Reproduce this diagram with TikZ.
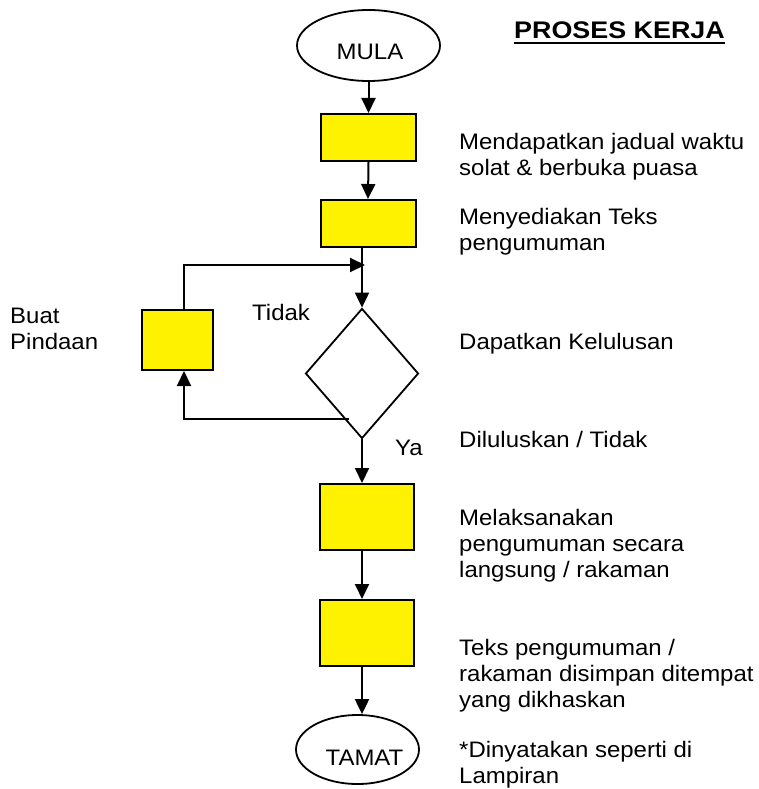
\documentclass[tikz,border=0pt]{standalone}
\usepackage{fontspec}
\setmainfont[FakeStretch=1.07]{Liberation Sans}
\newfontfamily\titlefont[FakeStretch=1.12]{Liberation Sans}
\usetikzlibrary{shapes.geometric,arrows.meta}
\begin{document}
\begin{tikzpicture}[x=1pt,y=-1pt,
  proc/.style={draw=black, line width=2pt, fill=yellow, inner sep=0pt},
  term/.style={draw=black, line width=1.8pt, ellipse, inner sep=0pt},
  arr/.style={line width=2pt, -{Triangle[length=15pt,width=14pt]}},
  txt/.style={font=\fontsize{22.4}{26}\selectfont, inner sep=0pt, align=left, anchor=base west},
  ctxt/.style={font=\fontsize{22.4}{26}\selectfont, inner sep=0pt, anchor=base}]
\useasboundingbox (0,0) rectangle (759,789);
\fill[white] (0,0) rectangle (759,789);
% terminals
\node[term, minimum width=143pt, minimum height=71pt] (mula) at (368.5,45.5) {};
\node[ctxt] (mulat) at (370,60) {MULA};
\node[term, minimum width=123pt, minimum height=69pt] (tamat) at (357.5,749.5) {};
\node[ctxt] (tamatt) at (364.5,765) {TAMAT};
% process boxes
\node[proc, minimum width=95pt, minimum height=47pt] (b1) at (368.5,137.5) {};
\node[proc, minimum width=95pt, minimum height=47pt] (b2) at (368,223.5) {};
\node[proc, minimum width=94pt, minimum height=66pt] (b3) at (367,517) {};
\node[proc, minimum width=94pt, minimum height=66pt] (b4) at (367,633) {};
\node[proc, minimum width=71pt, minimum height=60pt] (buat) at (177.5,340) {};
% decision
\node[draw=black, line width=1.8pt, diamond, inner sep=0pt, minimum width=113pt, minimum height=130pt] (dia) at (362,373.5) {};
% junctions
\coordinate (jt) at (365,265);
\coordinate (jb) at (349,419);
% connectors
\draw[arr] (mula.south) -- (b1.north);
\draw[arr] (b1.south) -- (b2.north);
\draw[arr] (b2.south -| dia.north) -- (dia.north);
\draw[arr] ([xshift=6.5pt]buat.north) |- (jt);
\draw[arr] (jb) -| ([xshift=6.5pt]buat.south);
\draw[arr] (dia.south) -- (dia.south |- b3.north);
\draw[arr] (b3.south -| dia.south) -- (b4.north -| dia.south);
\draw[arr] (b4.south -| dia.south) -- (tamat.north -| dia.south);
% labels
\node[txt] (tidak) at (252,320) {Tidak};
\node[txt] (ya) at (395,455) {Ya};
\node[txt] (bp) at (10,349) {Buat\\Pindaan};
% title
\node[font=\titlefont\bfseries\fontsize{24}{28}\selectfont, inner sep=0pt, anchor=base west] (title) at (514,39) {PROSES KERJA};
\draw[line width=2pt] ([yshift=-4.5pt]title.base west) -- ([yshift=-4.5pt]title.base east);
% descriptions (anchor = baseline of last line)
\node[txt] (d1) at (459,175) {Mendapatkan jadual waktu\\solat \& berbuka puasa};
\node[txt] (d2) at (459,250) {Menyediakan Teks\\pengumuman};
\node[txt] (d3) at (459,349) {Dapatkan Kelulusan};
\node[txt] (d4) at (459,447) {Diluluskan / Tidak};
\node[txt] (d5) at (459,577) {Melaksanakan\\pengumuman secara\\langsung / rakaman};
\node[txt] (d6) at (459,707) {Teks pengumuman /\\rakaman disimpan ditempat\\yang dikhaskan};
\node[txt] (d7) at (459,783) {*Dinyatakan seperti di\\Lampiran};
\end{tikzpicture}
\end{document}
